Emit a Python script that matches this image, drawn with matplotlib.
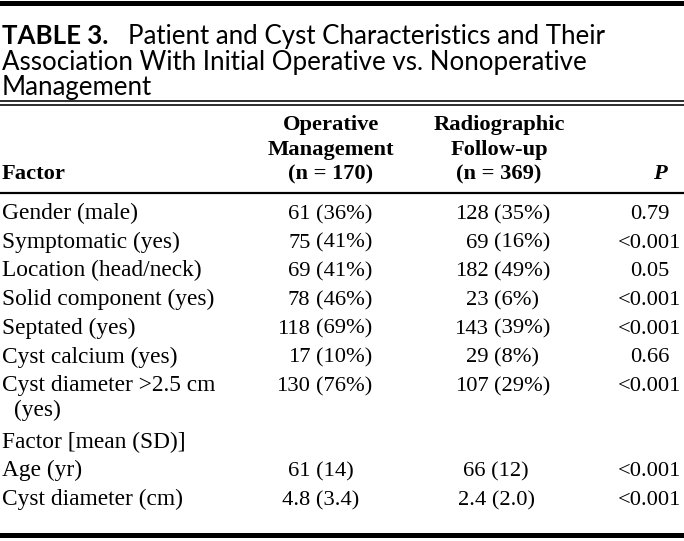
import matplotlib
matplotlib.use('Agg')
import matplotlib.pyplot as plt

# table contents
title_tag = 'TABLE 3.'
title_lines = ['Patient and Cyst Characteristics and Their',
               'Association With Initial Operative vs. Nonoperative',
               'Management']
col_heads = [['Operative', 'Management', '(n = 170)'],
             ['Radiographic', 'Follow-up', '(n = 369)']]

factors = ['Gender (male)', 'Symptomatic (yes)', 'Location (head/neck)',
           'Solid component (yes)', 'Septated (yes)', 'Cyst calcium (yes)',
           'Cyst diameter >2.5 cm']
op_n = [61, 75, 69, 78, 118, 17, 130]
op_pct = [36, 41, 41, 46, 69, 10, 76]
rad_n = [128, 69, 182, 23, 143, 29, 107]
rad_pct = [35, 16, 49, 6, 39, 8, 29]
p_count = ['0.79', '<0.001', '0.05', '<0.001', '<0.001', '0.66', '<0.001']

mean_heading = 'Factor [mean (SD)]'
mean_factors = ['Age (yr)', 'Cyst diameter (cm)']
op_mean = ['61', '4.8']
op_sd = ['14', '3.4']
rad_mean = ['66', '2.4']
rad_sd = ['12', '2.0']
p_mean = ['<0.001', '<0.001']

W, H = 684, 541
fig = plt.figure(figsize=(W / 100, H / 100), dpi=100)
ax = fig.add_axes([0, 0, 1, 1])
ax.set_xlim(0, W)
ax.set_ylim(H, 0)
ax.axis('off')

serif = 'Liberation Serif'
sans = 'Lato'
fs = 16.2      # headings and numbers
lfs = 16.8     # row labels
tfs = 18.6
px = 72 / 100  # points per pixel

# rules
ax.axhline(2.5, color='black', lw=5 * px)
ax.axhline(101, color='black', lw=1.6 * px)
ax.axhline(105, color='black', lw=1.6 * px)
ax.axhline(193, color='black', lw=2.2 * px)
ax.axhline(535, color='black', lw=5 * px)

# title
ax.text(2, 44, title_tag, family=sans, weight='bold', fontsize=tfs, va='baseline')
ax.text(128, 44, title_lines[0], family=sans, fontsize=tfs, va='baseline')
ax.text(2, 70, title_lines[1], family=sans, fontsize=tfs, va='baseline')
ax.text(2, 95, title_lines[2], family=sans, fontsize=tfs, va='baseline')

# column heads
x_op, x_rad, x_p = 331, 499, 660
for xc, lines in zip([x_op, x_rad], col_heads):
    for yb, s in zip([130, 155, 179], lines):
        ax.text(xc, yb, s, family=serif, weight='bold', fontsize=fs,
                ha='center', va='baseline')
ax.text(2, 179, 'Factor', family=serif, weight='bold', fontsize=fs, va='baseline')
ax.text(x_p, 179, 'P', family=serif, weight='bold', style='italic',
        fontsize=fs, ha='center', va='baseline')

# count rows
x_p_val = 650
paren_op, paren_rad = 316, 494
y0, dy = 219, 28.7
for i, f in enumerate(factors):
    yb = y0 + i * dy
    ax.text(2, yb, f, family=serif, fontsize=lfs, va='baseline')
    ax.text(paren_op - 5.6, yb, str(op_n[i]), family=serif, fontsize=fs,
            ha='right', va='baseline')
    ax.text(paren_op, yb, '(%d%%)' % op_pct[i], family=serif, fontsize=fs,
            ha='left', va='baseline')
    ax.text(paren_rad - 5.6, yb, str(rad_n[i]), family=serif, fontsize=fs,
            ha='right', va='baseline')
    ax.text(paren_rad, yb, '(%d%%)' % rad_pct[i], family=serif, fontsize=fs,
            ha='left', va='baseline')
    ax.text(x_p_val, yb, p_count[i], family=serif, fontsize=fs,
            ha='center', va='baseline')
# wrapped part of last factor
ax.text(14, 416, '(yes)', family=serif, fontsize=lfs, va='baseline')

# mean rows
ax.text(2, 448, mean_heading, family=serif, fontsize=lfs, va='baseline')
x_op_m, x_rad_m = 321, 496
for i, f in enumerate(mean_factors):
    yb = 476 + i * 29
    ax.text(2, yb, f, family=serif, fontsize=lfs, va='baseline')
    ax.text(x_op_m, yb, '%s (%s)' % (op_mean[i], op_sd[i]), family=serif,
            fontsize=fs, ha='center', va='baseline')
    ax.text(x_rad_m, yb, '%s (%s)' % (rad_mean[i], rad_sd[i]), family=serif,
            fontsize=fs, ha='center', va='baseline')
    ax.text(x_p_val, yb, p_mean[i], family=serif, fontsize=fs,
            ha='center', va='baseline')

fig.savefig('out.png', dpi=100)
